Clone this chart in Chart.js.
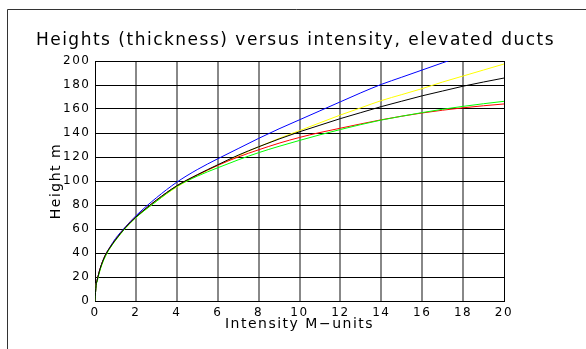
<!DOCTYPE html>
<html>
<head>
<meta charset="utf-8">
<script src="https://cdn.jsdelivr.net/npm/chart.js@4/dist/chart.umd.min.js"></script>
<style>
  html, body { margin: 0; padding: 0; background: #fff; }
  #wrap { position: relative; width: 586px; height: 349px; }
</style>
</head>
<body>
<div id="wrap"><canvas id="c" width="586" height="349"></canvas></div>
<script>
const titleText = "Heights (thickness) versus intensity, elevated ducts";
const xTitle = "Intensity M\u2212units";
const yTitle = "Height m";
const xTicks = [0, 2, 4, 6, 8, 10, 12, 14, 16, 18, 20];
const yTicks = [0, 20, 40, 60, 80, 100, 120, 140, 160, 180, 200];

const intensity    = [0, 0.05, 0.1, 0.25, 0.5, 0.75, 1, 1.5, 2, 3, 4, 5, 6, 7, 8, 9, 10, 11, 12, 13, 14, 15, 16, 17, 18, 19, 20];
const blueSeries   = [0, 13, 17, 27, 38, 45.5, 52, 62, 71, 86, 99, 109.5, 118.5, 127, 135.5, 143.5, 151, 158.5, 166, 173.5, 180.5, 186.5, 192.5, 198.5, 204.5, 210, 215.5];
const yellowSeries = [0, 13, 16.5, 26, 37, 44.5, 50.5, 61, 69.5, 83, 95, 104.5, 113, 121, 128.5, 135.5, 142, 148.5, 155, 161, 167, 172, 177, 182.5, 187.5, 192.5, 197.5];
const blackSeries  = [0, 13, 17, 27, 38, 45, 51, 61.5, 70, 84, 96, 105.2, 113.5, 121.5, 128.5, 135, 141, 146.5, 152, 157, 162, 166.5, 171, 175, 179, 182.5, 185.8];
const redSeries    = [0, 13, 17, 27, 38, 45, 51, 61.5, 70, 84, 96, 105, 113, 120, 126, 131.5, 136.3, 140.4, 144, 147.6, 151, 154, 156.7, 159, 161, 162.7, 164.2];
const greenSeries  = [0, 12.5, 16, 26, 37, 44.5, 50.5, 61, 69.5, 83, 95.5, 104, 111, 117.6, 123.6, 128.9, 133.8, 138.5, 142.9, 147, 150.8, 154, 157, 159.8, 162.2, 164.4, 166.4];

const toPts = arr => arr.map((v, i) => ({ x: intensity[i], y: v }));
const mk = (data, color) => ({
  data: toPts(data), borderColor: color, borderWidth: 1, pointRadius: 0,
  fill: false, cubicInterpolationMode: 'monotone'
});

const FONT = "'DejaVu Sans', sans-serif";

const framePlugin = {
  id: 'frame',
  beforeDraw(chart) {
    const ctx = chart.ctx;
    ctx.save();
    ctx.strokeStyle = '#333';
    ctx.lineWidth = 1;
    ctx.beginPath();
    ctx.moveTo(7.5, 349);
    ctx.lineTo(7.5, 9.5);
    ctx.lineTo(586, 9.5);
    ctx.stroke();
    ctx.restore();
    ctx.letterSpacing = '1.5px';
  }
};

new Chart(document.getElementById('c'), {
  type: 'line',
  data: {
    datasets: [
      mk(blackSeries, '#000000'),
      mk(greenSeries, '#00ff00'),
      mk(redSeries, '#ff0000'),
      mk(yellowSeries, '#ffff00'),
      mk(blueSeries, '#0000ff')
    ]
  },
  options: {
    responsive: false,
    animation: false,
    layout: { padding: { left: 5, right: 0, top: 0, bottom: 0 } },
    plugins: {
      legend: { display: false },
      tooltip: { enabled: false },
      title: {
        display: true, text: titleText, color: '#000',
        font: { family: FONT, size: 17, weight: 'normal', lineHeight: 1.2 },
        padding: { top: 30, bottom: 10.6 }
      }
    },
    scales: {
      x: {
        type: 'linear', min: 0, max: 20,
        afterFit: s => { s.height = 48; },
        afterBuildTicks: s => { s.ticks = xTicks.map(v => ({ value: v })); },
        ticks: { color: '#000', font: { family: FONT, size: 12 }, padding: 5, maxRotation: 0, autoSkip: false },
        grid: {
          drawTicks: false,
          color: c => (c.tick && (c.tick.value === 0 || c.tick.value === 20)) ? '#000' : '#888',
          lineWidth: c => (c.tick && (c.tick.value === 0 || c.tick.value === 20)) ? 1 : 2
        },
        border: { display: true, color: '#000', width: 1 },
        title: { display: true, text: xTitle, color: '#000', font: { family: FONT, size: 14 }, padding: { top: 0, bottom: 16 } }
      },
      y: {
        type: 'linear', min: 0, max: 200,
        afterFit: s => { s.width = 90; },
        afterBuildTicks: s => { s.ticks = yTicks.map(v => ({ value: v })); },
        ticks: { color: '#000', font: { family: FONT, size: 12 }, padding: 4.5 },
        grid: { drawTicks: false, color: '#000', lineWidth: 1 },
        border: { display: true, color: '#000', width: 1 },
        title: { display: true, text: yTitle, color: '#000', font: { family: FONT, size: 14 }, padding: { top: 43, bottom: 0 } }
      },
      yRight: {
        type: 'linear', position: 'right', min: 0, max: 200, display: true,
        afterFit: s => { s.width = 82; },
        ticks: { display: false },
        grid: { display: false, drawTicks: false },
        border: { display: false }
      }
    }
  },
  plugins: [framePlugin]
});
</script>
</body>
</html>
